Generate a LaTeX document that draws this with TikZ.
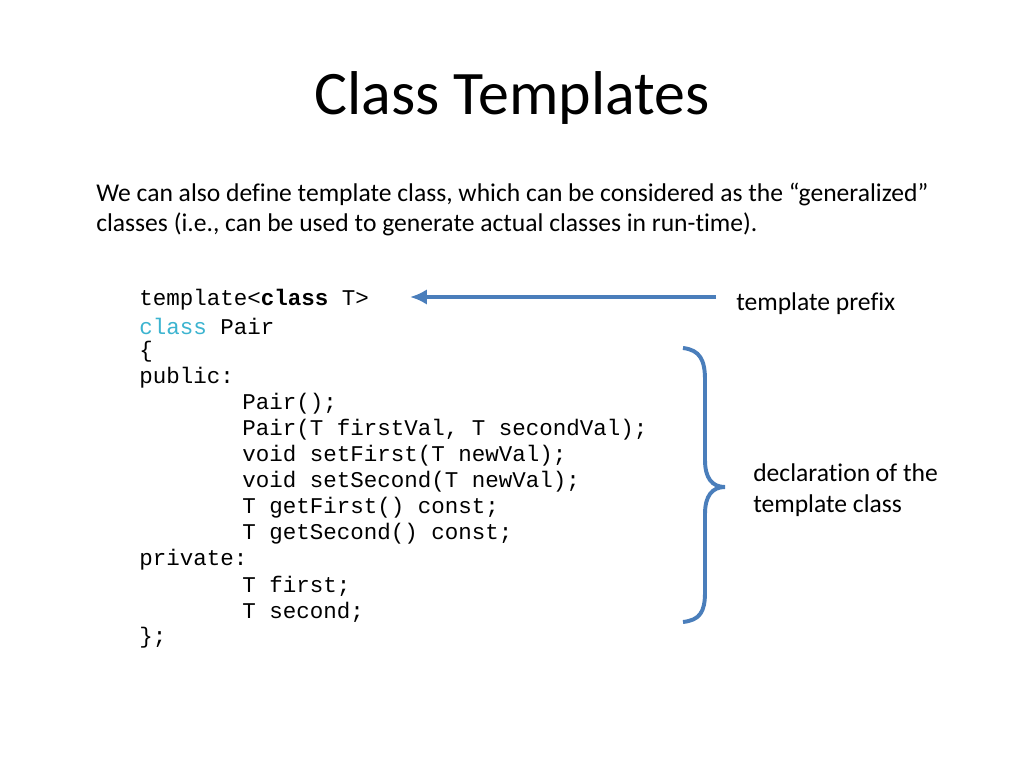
\documentclass[tikz,border=0pt]{standalone}
\usepackage{fontspec}
\setmainfont{Carlito}[Ligatures={NoCommon}]
\setmonofont{Liberation Mono}
\usepackage{xcolor}
\usetikzlibrary{arrows.meta}
\definecolor{blue1}{HTML}{4A7EBB}
\definecolor{cyan1}{HTML}{3CB4D0}
\tikzset{
  code/.style={anchor=west,inner sep=0pt,font=\ttfamily\fontsize{16}{18}\selectfont},
  note/.style={anchor=west,inner sep=0pt,font=\fontsize{18.2}{22}\selectfont}
}
\begin{document}
\begin{tikzpicture}[x=0.025cm,y=-0.025cm]
\useasboundingbox[fill=white] (0,0) rectangle (1024,768);
\node[inner sep=0pt,font=\fontsize{44}{48}\selectfont] (title) at (512,98) {Class Templates};
\node[note] (intro1) at (96,194) {We can also define template class, which can be considered as the “generalized”};
\node[note] (intro2) at (96,224) {classes (i.e., can be used to generate actual classes in run-time).};
%
\node[code] (l1) at (139,300) {template<\textbf{class} T>};
\node[code] (l2) at (139,326) {\textcolor{cyan1}{class} Pair};
\node[code] (l3) at (139,352) {\{};
\node[code] (l4) at (139,378) {public:};
\node[code] (l5) at (242,404) {Pair();};
\node[code] (l6) at (242,430) {Pair(T firstVal, T secondVal);};
\node[code] (l7) at (242,456) {void setFirst(T newVal);};
\node[code] (l8) at (242,482) {void setSecond(T newVal);};
\node[code] (l9) at (242,508) {T getFirst() const;};
\node[code] (l10) at (242,534) {T getSecond() const;};
\node[code] (l11) at (139,560) {private:};
\node[code] (l12) at (242,586) {T first;};
\node[code] (l13) at (242,612) {T second;};
\node[code] (l14) at (139,638) {\};};
%
\node[note] (prefix) at (736,304) {template prefix};
\coordinate (tail) at (716,297);
\coordinate (head) at (410,297);
\draw[blue1,line width=2.8pt,-{Latex[length=12pt,width=11pt]}] (tail) -- (head);
\node[note,align=left] (decl) at (753,490) {declaration of the\\template class};
\draw[blue1,line width=2.8pt]
  (683,348) .. controls (700,350) and (705,360) .. (705,380)
  -- (705,460) .. controls (705,478) and (712,487) .. (725,487)
  .. controls (712,487) and (705,496) .. (705,514)
  -- (705,592) .. controls (705,612) and (700,620) .. (683,622);
\end{tikzpicture}
\end{document}
